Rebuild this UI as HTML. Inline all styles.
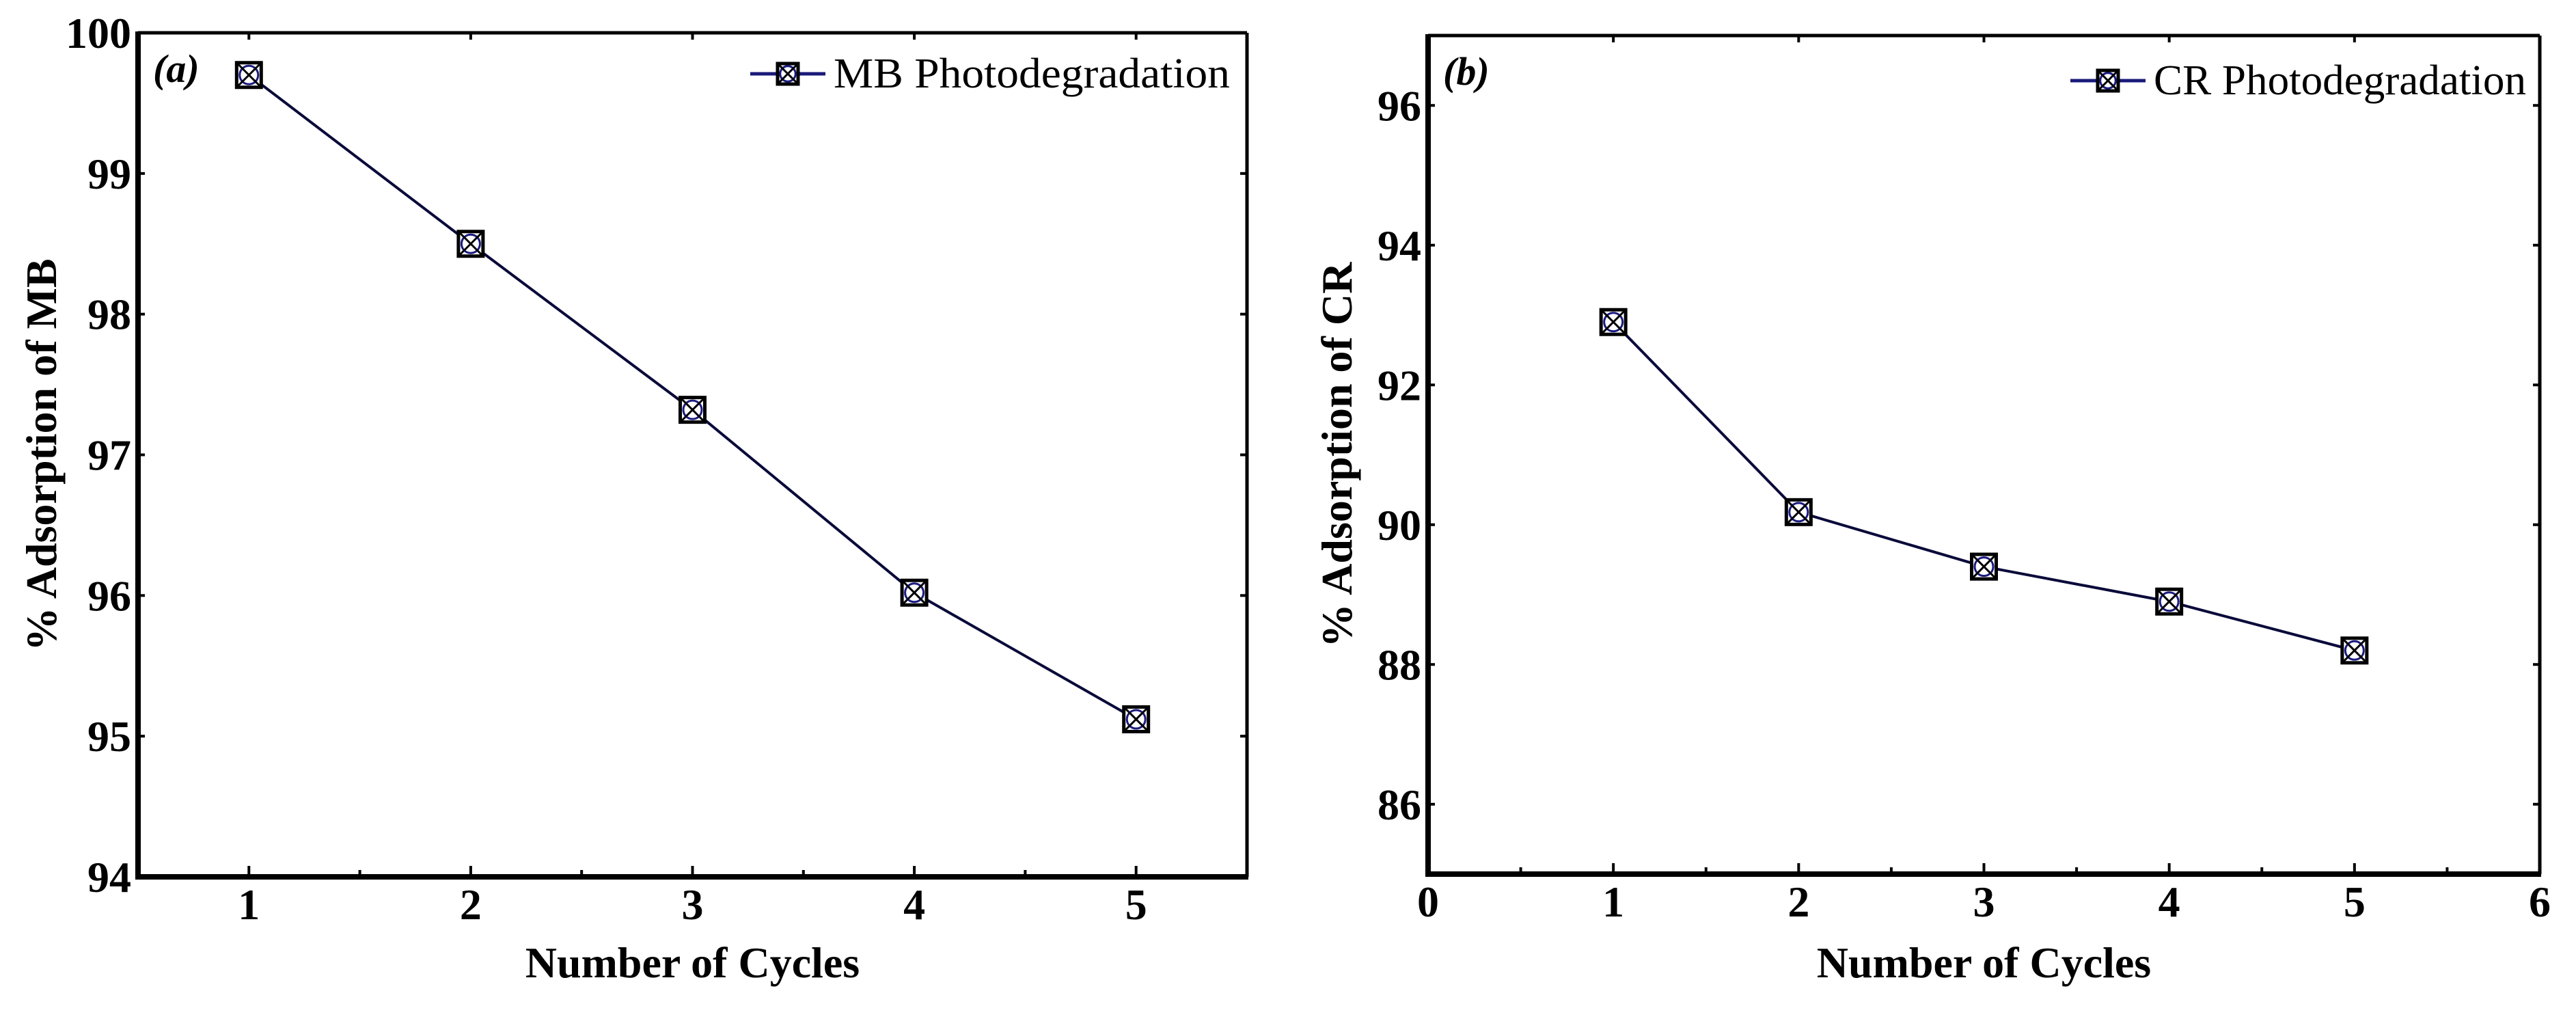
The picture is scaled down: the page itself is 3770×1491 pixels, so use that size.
<!DOCTYPE html>
<html><head><meta charset="utf-8"><style>
html,body{margin:0;padding:0;background:#fff;}
svg{display:block;font-family:"Liberation Serif",serif;}
</style></head><body>
<svg id="fig" width="3770" height="1491" viewBox="0 0 3770 1491" xmlns="http://www.w3.org/2000/svg"></svg>
<script>
const cyclesA = [1,2,3,4,5];
const valuesA = [99.7,98.5,97.32,96.02,95.12];
const xTicksA = [1,2,3,4,5];
const yTicksA = [94,95,96,97,98,99,100];
const cyclesB = [1,2,3,4,5];
const valuesB = [92.9,90.18,89.4,88.9,88.2];
const xTicksB = [0,1,2,3,4,5,6];
const yTicksB = [86,88,90,92,94,96];

const NS="http://www.w3.org/2000/svg";
const svg=document.getElementById('fig');
function mk(tag,attrs,parent,text){const e=document.createElementNS(NS,tag);for(const k in attrs)e.setAttribute(k,attrs[k]);if(text!==undefined)e.textContent=text;(parent||svg).appendChild(e);return e;}

function marker(g,x,y,s){
  const h=s/2;
  mk('rect',{x:x-h,y:y-h,width:s,height:s,fill:'#fff',stroke:'#000','stroke-width':5},g);
  mk('circle',{cx:x,cy:y,r:h*0.75,fill:'none',stroke:'#1a1a80','stroke-width':3},g);
  mk('line',{x1:x-h,y1:y-h,x2:x+h,y2:y+h,stroke:'#000','stroke-width':3},g);
  mk('line',{x1:x+h,y1:y-h,x2:x-h,y2:y+h,stroke:'#000','stroke-width':3},g);
}

function panel(cfg){
  const g=mk('g',{});
  
  
  const {L,R,T,B,xmin,xmax,ymin,ymax}=cfg;
  const sx=v=>L+(v-xmin)/(xmax-xmin)*(R-L);
  const sy=v=>B-(v-ymin)/(ymax-ymin)*(B-T);
  // minor ticks (half-steps)
  const xs=cfg.xTicks;
  for(let i=0;i<xs.length;i++){
    const x=sx(xs[i]);
    const t=mk('line',{x1:x,y1:B,x2:x,y2:B-16,stroke:'#000','stroke-width':4},g);
    
    mk('line',{x1:x,y1:T,x2:x,y2:T+10,stroke:'#000','stroke-width':4},g);
    const lab=mk('text',{x:x,y:B+62,'text-anchor':'middle','font-size':64,'font-weight':'bold'},g,String(xs[i]));
    
    if(i<xs.length-1){const m=sx((xs[i]+xs[i+1])/2);mk('line',{x1:m,y1:B,x2:m,y2:B-10,stroke:'#000','stroke-width':4},g);}
  }
  const ys=cfg.yTicks;
  for(let i=0;i<ys.length;i++){
    const y=sy(ys[i]);
    mk('line',{x1:L,y1:y,x2:L+10,y2:y,stroke:'#000','stroke-width':4},g);
    mk('line',{x1:R,y1:y,x2:R-10,y2:y,stroke:'#000','stroke-width':4},g);
    const lab=mk('text',{x:L-10,y:y+22,'text-anchor':'end','font-size':64,'font-weight':'bold'},g,String(ys[i]));
    
  }
  // axes frame
  mk('line',{x1:L,y1:T,x2:R,y2:T,stroke:'#000','stroke-width':5},g);
  mk('line',{x1:R,y1:T,x2:R,y2:B,stroke:'#000','stroke-width':5},g);
  mk('line',{x1:L,y1:T-2,x2:L,y2:B+4,stroke:'#000','stroke-width':8},g);
  mk('line',{x1:L-4,y1:B,x2:R+2,y2:B,stroke:'#000','stroke-width':8},g);
  // series
  const pts=cfg.xs.map((c,i)=>sx(c)+','+sy(cfg.ys[i])).join(' ');
  const pl=mk('polyline',{points:pts,fill:'none',stroke:'#0a0a3a','stroke-width':4},g);
  
  cfg.xs.forEach((c,i)=>{
    const mg=mk('g',{},g);
    
    marker(mg,sx(c),sy(cfg.ys[i]),36);
  });
  // panel label
  const pa=mk('text',{x:L+22,y:T+72,'font-size':58,'font-weight':'bold','font-style':'italic'},g,cfg.tag);
  
  // legend
  const lg=mk('g',{},g);
  
  mk('line',{x1:cfg.legX,y1:cfg.legY,x2:cfg.legX+110,y2:cfg.legY,stroke:'#1a1a7a','stroke-width':5},lg);
  marker(lg,cfg.legX+55,cfg.legY,30);
  mk('text',{x:cfg.legX+122,y:cfg.legY+20,'font-size':62,textLength:cfg.legW,lengthAdjust:'spacingAndGlyphs'},lg,cfg.legend);
  // axis titles
  const xt=mk('text',{x:(L+R)/2,y:1430,'text-anchor':'middle','font-size':64,'font-weight':'bold'},g,'Number of  Cycles');
  
  const yc=(T+B)/2;
  const yt=mk('text',{x:cfg.ylx,y:yc,'text-anchor':'middle','font-size':64,'font-weight':'bold',transform:`rotate(-90 ${cfg.ylx} ${yc})`},g,cfg.ytitle);
  
}

panel({name:'chart-a-mb',L:202,R:1825,T:48,B:1283,xmin:0.5,xmax:5.5,ymin:94,ymax:100,
  xTicks:xTicksA,yTicks:yTicksA,xs:cyclesA,ys:valuesA,tag:'(a)',
  legX:1098,legY:108,legW:580,legend:'MB Photodegradation',ylx:82,ytitle:'% Adsorption of MB'});
panel({name:'chart-b-cr',L:2090,R:3717,T:52,B:1279,xmin:0,xmax:6,ymin:85,ymax:97,
  xTicks:xTicksB,yTicks:yTicksB,xs:cyclesB,ys:valuesB,tag:'(b)',
  legX:3030,legY:118,legW:545,legend:'CR Photodegradation',ylx:1978,ytitle:'% Adsorption of CR'});
</script>
</body></html>
